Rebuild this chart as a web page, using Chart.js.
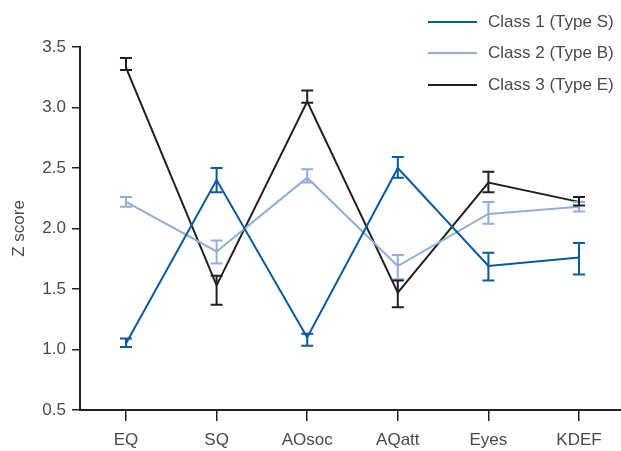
<!DOCTYPE html>
<html><head><meta charset="utf-8">
<script src="https://cdn.jsdelivr.net/npm/chart.js@4/dist/chart.umd.min.js"></script>
<style>
html,body{margin:0;padding:0;background:#fff;}
#wrap{position:relative;width:621px;height:451px;}
#legend{position:absolute;left:428px;top:6px;font-family:"Liberation Sans",Arial,sans-serif;font-size:17px;color:#4a4a4a;}
.row{display:flex;align-items:center;height:31.5px;}
.sw{width:49px;height:0;border-top:2px solid;margin-right:11px;}
</style></head>
<body><div id="wrap"><canvas id="c" width="621" height="451"></canvas>
<div id="legend"></div></div>
<script>
const categories = ["EQ","SQ","AOsoc","AQatt","Eyes","KDEF"];
const seriesNames = ["Class 1 (Type S)","Class 2 (Type B)","Class 3 (Type E)"];
const class1 = [1.05, 2.40, 1.10, 2.50, 1.69, 1.76];
const class1Lo = [1.02, 2.30, 1.03, 2.42, 1.57, 1.62];
const class1Hi = [1.09, 2.50, 1.13, 2.59, 1.80, 1.88];
const class2 = [2.22, 1.81, 2.42, 1.69, 2.12, 2.18];
const class2Lo = [2.18, 1.71, 2.38, 1.58, 2.04, 2.14];
const class2Hi = [2.26, 1.90, 2.49, 1.78, 2.22, 2.22];
const class3 = [3.33, 1.53, 3.05, 1.47, 2.38, 2.22];
const class3Lo = [3.31, 1.37, 3.04, 1.35, 2.30, 2.19];
const class3Hi = [3.41, 1.61, 3.14, 1.57, 2.47, 2.26];
const yTicks = [0.5, 1.0, 1.5, 2.0, 2.5, 3.0, 3.5];

const colors = ["#0b5a99", "#92aed6", "#231f20"];
const errs = [[class1Lo,class1Hi],[class2Lo,class2Hi],[class3Lo,class3Hi]];
const FONT = "'Liberation Sans', Arial, sans-serif";
const TXT = "#4a4a4a";

const errPlugin = {
  id:'errbars',
  afterDatasetsDraw(chart){
    const ctx = chart.ctx, xs = chart.scales.x, ys = chart.scales.y;
    chart.data.datasets.forEach((ds,di)=>{
      const [lo,hi] = errs[di];
      ctx.save();
      ctx.strokeStyle = ds.borderColor; ctx.lineWidth = 2;
      ds.data.forEach((p,i)=>{
        const x = xs.getPixelForValue(p.x);
        const y1 = ys.getPixelForValue(lo[i]), y2 = ys.getPixelForValue(hi[i]);
        ctx.beginPath();
        ctx.moveTo(x,y1); ctx.lineTo(x,y2);
        ctx.moveTo(x-6,y1); ctx.lineTo(x+6,y1);
        ctx.moveTo(x-6,y2); ctx.lineTo(x+6,y2);
        ctx.stroke();
      });
      ctx.restore();
    });
  }
};

const data = [class1,class2,class3];
new Chart(document.getElementById('c'), {
  type:'line',
  data:{ datasets: data.map((d,i)=>({label:seriesNames[i], data:d.map((v,j)=>({x:j,y:v})), borderColor:colors[i], backgroundColor:colors[i], borderWidth:2, pointRadius:0, tension:0})) },
  options:{
    responsive:false, animation:false,
    layout:{padding:{left:0,top:47,right:0,bottom:0}},
    plugins:{legend:{display:false}, tooltip:{enabled:false}},
    scales:{
      x:{ type:'linear', min:-0.5077, max:5.4636,
        afterBuildTicks(s){ s.ticks = categories.map((c,i)=>({value:i})); },
        grid:{drawOnChartArea:false, drawTicks:true, tickLength:11, color:"#231f20", lineWidth:1.5},
        border:{display:true, color:"#231f20", width:2},
        ticks:{font:{family:FONT,size:17}, color:TXT, padding:9, callback:v=>categories[v]},
        afterFit(s){ s.height = 41; }
      },
      y:{ min:0.5, max:3.5,
        afterBuildTicks(s){ s.ticks = yTicks.map(v=>({value:v})); },
        grid:{drawOnChartArea:false, drawTicks:true, tickLength:8, color:"#231f20", lineWidth:1.5},
        border:{display:true, color:"#231f20", width:2},
        ticks:{font:{family:FONT,size:17}, color:TXT, padding:6, callback:v=>Number(v).toFixed(1)},
        title:{display:true, text:"Z score", font:{family:FONT,size:17}, color:TXT, padding:{top:9,bottom:0}},
        afterFit(s){ s.width = 80; }
      }
    }
  },
  plugins:[errPlugin]
});

const lg = document.getElementById('legend');
seriesNames.forEach((n,i)=>{
  const r = document.createElement('div'); r.className='row';
  const sw = document.createElement('span'); sw.className='sw'; sw.style.borderColor = colors[i];
  const t = document.createElement('span'); t.textContent = n;
  r.appendChild(sw); r.appendChild(t); lg.appendChild(r);
});
</script></body></html>
